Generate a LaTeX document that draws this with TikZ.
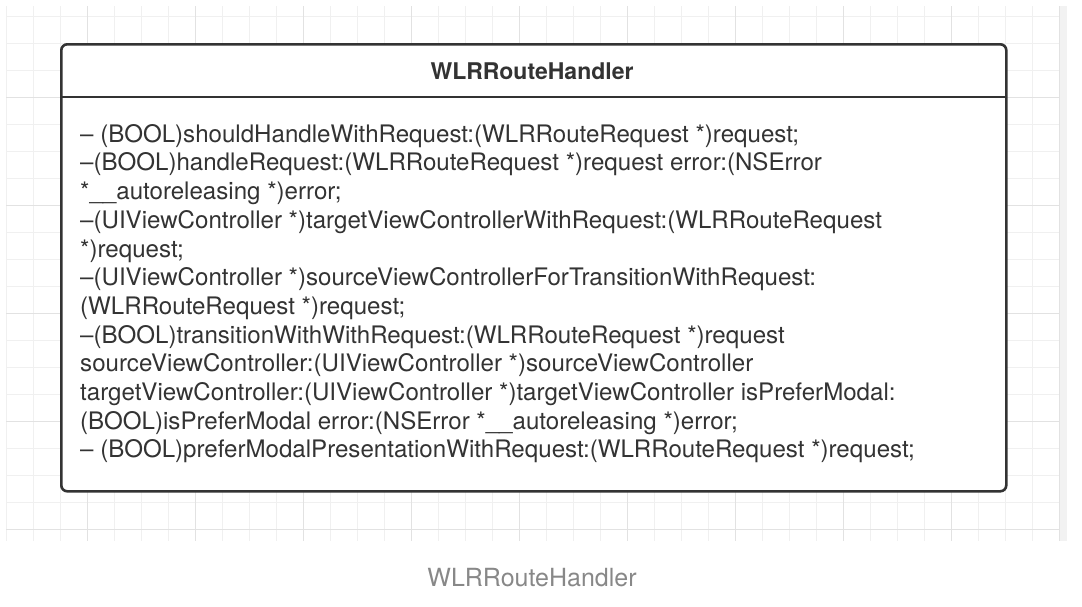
\documentclass[tikz,border=0pt]{standalone}
\usepackage{fontspec}
\setmainfont{TeX Gyre Heros}
\usetikzlibrary{positioning}

\definecolor{gridminor}{HTML}{F0F0F0}
\definecolor{gridmajor}{HTML}{E2E2E2}
\definecolor{gridedge}{HTML}{F2F2F2}
\definecolor{boxline}{HTML}{333333}
\definecolor{captiongray}{HTML}{888888}

\tikzset{
  classbox/.style={draw=boxline, line width=2.6pt, rounded corners=6pt, fill=white,
    minimum width=945pt, minimum height=447pt, inner sep=0pt, anchor=north west},
  classtitle/.style={font=\fontsize{23}{27}\selectfont\bfseries, text=boxline, inner sep=0pt},
  classbody/.style={font=\fontsize{24.1}{28.7}\selectfont, text=boxline, align=left,
    inner sep=0pt, anchor=north west},
  captiontext/.style={font=\fontsize{25}{29}\selectfont, text=captiongray, inner sep=0pt},
}

\begin{document}
\begin{tikzpicture}[x=1pt,y=-1pt]
\useasboundingbox (0,0) rectangle (1082,606);

% grid background
\fill[gridedge] (1060,6) rectangle (1067,541);
\foreach \i in {0,...,39}
  \draw[gridminor, line width=1pt] ({6+27*\i},6) -- ({6+27*\i},541);
\foreach \j in {0,...,19}
  \draw[gridminor, line width=1pt] (6,{16+27*\j}) -- (1060,{16+27*\j});
\foreach \i in {3,7,...,39}
  \draw[gridmajor, line width=1pt] ({6+27*\i},6) -- ({6+27*\i},541);
\foreach \j in {3,7,...,19}
  \draw[gridmajor, line width=1pt] (6,{16+27*\j}) -- (1060,{16+27*\j});

% class box
\node[classbox] (handler) at (60,43) {};
\coordinate (sepL) at (60,97);
\coordinate (sepR) at (1005,97);
\draw[boxline, line width=2.6pt] (sepL) -- (sepR);

\node[classtitle] (title) at (532,71) {WLRRouteHandler};

\node[classbody] (methods) at (80,124) {%
– (BOOL)shouldHandleWithRequest:(WLRRouteRequest *)request;\\
–(BOOL)handleRequest:(WLRRouteRequest *)request error:(NSError\\
*\_\_autoreleasing *)error;\\
–(UIViewController *)targetViewControllerWithRequest:(WLRRouteRequest\\
*)request;\\
–(UIViewController *)sourceViewControllerForTransitionWithRequest:\\
(WLRRouteRequest *)request;\\
–(BOOL)transitionWithWithRequest:(WLRRouteRequest *)request\\
sourceViewController:(UIViewController *)sourceViewController\\
targetViewController:(UIViewController *)targetViewController isPreferModal:\\
(BOOL)isPreferModal error:(NSError *\_\_autoreleasing *)error;\\
– (BOOL)preferModalPresentationWithRequest:(WLRRouteRequest *)request;};

% caption
\node[captiontext] (caption) at (532,578) {WLRRouteHandler};
\end{tikzpicture}
\end{document}
